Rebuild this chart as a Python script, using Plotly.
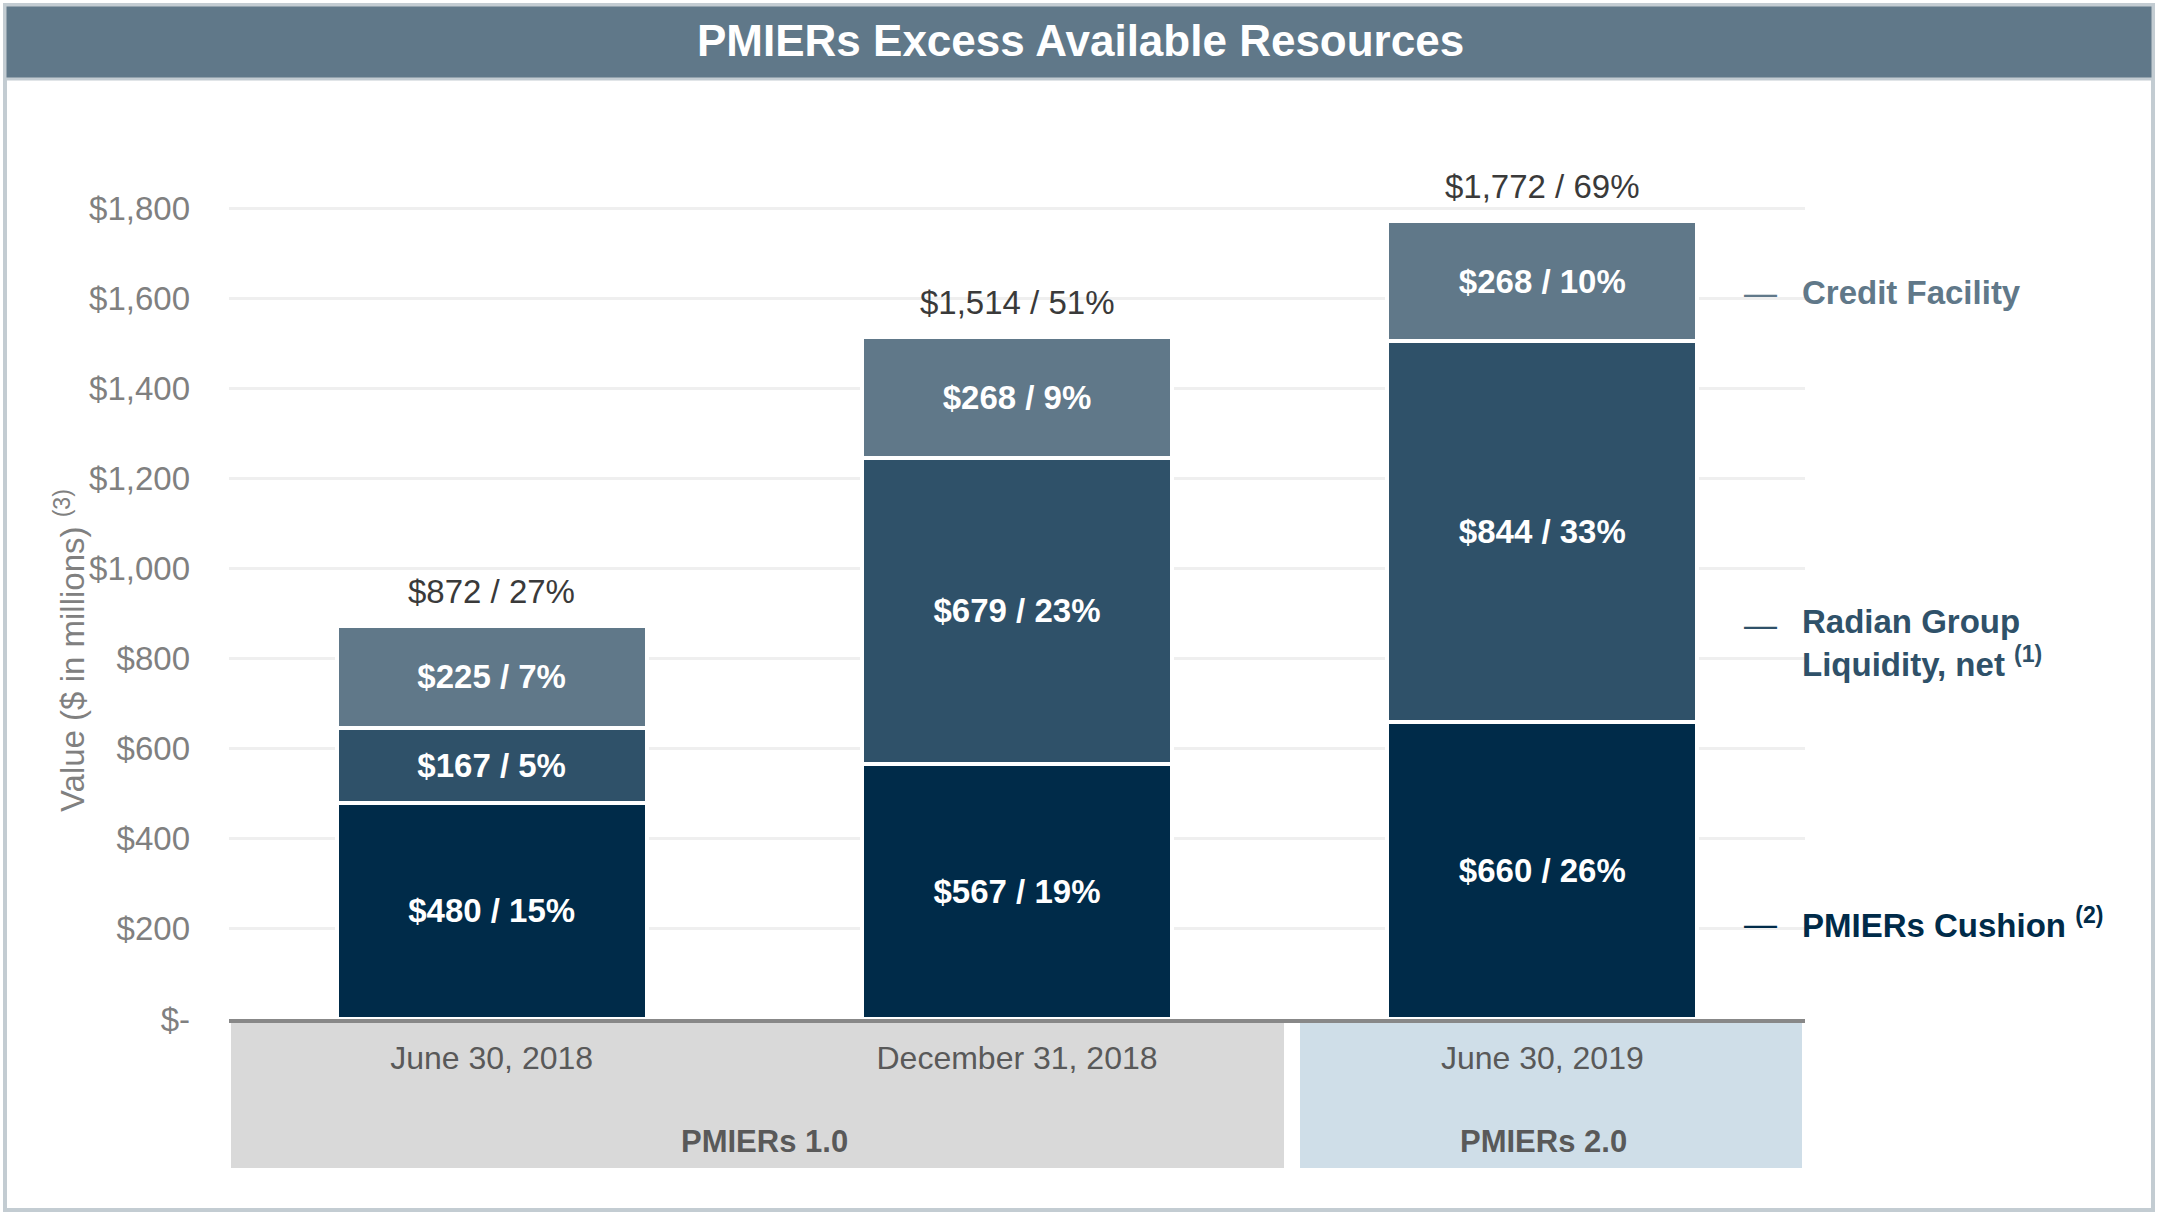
import plotly.graph_objects as go

# values ($ in millions / % share)
dates = ['June 30, 2018', 'December 31, 2018', 'June 30, 2019']
cushion = [480, 567, 660]
cushion_pct = [15, 19, 26]
liquidity = [167, 679, 844]
liquidity_pct = [5, 23, 33]
credit = [225, 268, 268]
credit_pct = [7, 9, 10]
totals = [872, 1514, 1772]
totals_pct = [27, 51, 69]
y_ticks = [0, 200, 400, 600, 800, 1000, 1200, 1400, 1600, 1800]
y_ticktext = ['$-', '$200', '$400', '$600', '$800', '$1,000', '$1,200', '$1,400', '$1,600', '$1,800']

FONT = 'Arial, Liberation Sans, sans-serif'
C_CREDIT = '#607889'
C_LIQ = '#2f5169'
C_CUSH = '#002b49'
GREY_TXT = '#808080'
DARK_TXT = '#595959'

W, H = 2160, 1215
L, R, T, B = 229, 355, 163, 196
PW, PH = W - L - R, H - T - B


def px(x):
    return (x - L) / PW


def py(y):
    return (H - B - y) / PH


def lab(vals, pcts):
    return [f'${v:,} / {p}%' for v, p in zip(vals, pcts)]


def note(x, y, text, size, color, **kw):
    d = dict(x=px(x), y=py(y), xref='paper', yref='paper', showarrow=False,
             xanchor='center', yanchor='middle', text=text,
             font=dict(family=FONT, size=size, color=color))
    d.update(kw)
    return d


fig = go.Figure()
series = [
    ('PMIERs Cushion', cushion, cushion_pct, C_CUSH),
    ('Radian Group Liquidity, net', liquidity, liquidity_pct, C_LIQ),
    ('Credit Facility', credit, credit_pct, C_CREDIT),
]
for name, vals, pcts, col in series:
    fig.add_trace(go.Bar(
        x=dates, y=vals, name=name,
        marker=dict(color=col, line=dict(color='white', width=4)),
        text=lab(vals, pcts),
        textposition='inside', insidetextanchor='middle', textangle=0,
        constraintext='none',
        insidetextfont=dict(family=FONT, size=33, color='white', weight='bold'),
        hovertemplate=name + ': %{text}<extra></extra>',
    ))

annotations = []
for d, t, p in zip(dates, totals, totals_pct):
    annotations.append(dict(
        x=d, y=t, xref='x', yref='y', text=f'${t:,} / {p}%', showarrow=False,
        xanchor='center', yanchor='bottom', yshift=14,
        font=dict(family=FONT, size=33, color='#3a3a3a')))

# title
annotations.append(note(W / 2, 40, '<b>PMIERs Excess Available Resources</b>', 44, 'white'))

# y axis title
annotations.append(note(70, 651, 'Value ($ in millions) <sup>(3)</sup>', 33, GREY_TXT,
                        textangle=-90))

# right-hand labels
side = [
    ('Credit Facility', C_CREDIT, 292, 292),
    ('Radian Group<br>Liquidity, net <sup>(1)</sup>', C_LIQ, 643, 624),
    ('PMIERs Cushion <sup>(2)</sup>', C_CUSH, 923, 923),
]
for txt, col, yc, yd in side:
    annotations.append(note(1800, yc, f'<b>{txt}</b>', 33, col, xanchor='left', align='left'))
    annotations.append(note(1742, yd, '\u2014', 33, col, xanchor='left'))

# PMIERs version band labels
annotations.append(note(764, 1141, '<b>PMIERs 1.0</b>', 31, DARK_TXT))
annotations.append(note(1543, 1141, '<b>PMIERs 2.0</b>', 31, DARK_TXT))


def rect(x0, y0, x1, y1, **kw):
    return dict(type='rect', xref='paper', yref='paper', layer='below',
                x0=px(x0), x1=px(x1), y0=py(y0), y1=py(y1), **kw)


shapes = [
    rect(5, 5, 2153, 1210, line=dict(color='#c3ccd2', width=4), fillcolor='white'),
    rect(5, 5, 2153, 79, line=dict(color='#c3ccd2', width=3), fillcolor=C_CREDIT),
    rect(231, 1023, 1284, 1168, line=dict(width=0), fillcolor='#d9d9d9'),
    rect(1300, 1023, 1802, 1168, line=dict(width=0), fillcolor='#cfdee8'),
]

fig.update_layout(
    barmode='stack',
    bargap=0.41,
    width=W, height=H,
    margin=dict(l=L, r=R, t=T, b=B, pad=0),
    paper_bgcolor='white',
    plot_bgcolor='rgba(0,0,0,0)',
    showlegend=False,
    font=dict(family=FONT),
    annotations=annotations,
    shapes=shapes,
    xaxis=dict(
        range=[-0.5, 2.5], showline=True, linecolor='#888888', linewidth=4,
        showgrid=False, zeroline=False, ticks='', ticklabelstandoff=8,
        tickfont=dict(family=FONT, size=32, color=DARK_TXT),
    ),
    yaxis=dict(
        range=[0, 1900], tickvals=y_ticks, ticktext=y_ticktext,
        showgrid=True, gridcolor='#efefef', gridwidth=3, zeroline=False,
        showline=False, ticks='', ticklabelstandoff=38,
        tickfont=dict(family=FONT, size=33, color=GREY_TXT),
    ),
)

fig.write_html('out.html', config={'displayModeBar': False},
               post_script="document.body.style.margin='0';")
